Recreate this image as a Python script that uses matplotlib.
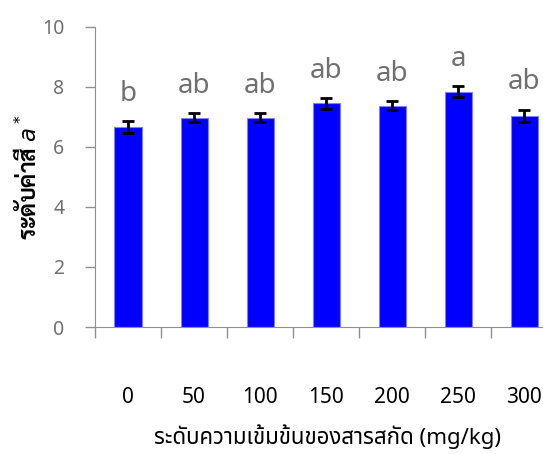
import matplotlib
matplotlib.use('Agg')
import matplotlib.pyplot as plt
from matplotlib import font_manager

# data
doses = ['0', '50', '100', '150', '200', '250', '300']
a_star = [6.65, 6.98, 6.98, 7.45, 7.38, 7.84, 7.04]
a_err = [0.20, 0.15, 0.15, 0.18, 0.15, 0.18, 0.20]
letters = ['b', 'ab', 'ab', 'ab', 'ab', 'a', 'ab']

fonts = font_manager.fontManager.ttflist
names = set(f.name for f in fonts)
thai = [n for n in ['Noto Sans Thai', 'Sarabun', 'Niramit', 'Kanit'] if n in names][:1]
bold = [n for n in ['Noto Sans Thai', 'Sarabun', 'Niramit', 'Kanit']
        if any(f.name == n and f.weight in (700, 'bold') and f.style == 'normal' for f in fonts)][:1]
fam = thai + ['DejaVu Sans']
plt.rcParams['font.family'] = fam
plt.rcParams['mathtext.fontset'] = 'dejavusans'

fig = plt.figure(figsize=(5.43, 4.54), dpi=100)
ax = fig.add_axes([0.175, 0.2797, 0.851, 0.661])

x = list(range(len(doses)))
ax.bar(x, a_star, width=0.41, color='#0000ff', edgecolor='#8080ff', linewidth=0.8)
ax.errorbar(x, a_star, yerr=a_err, fmt='none', ecolor='black', elinewidth=2,
            capsize=4.5, capthick=2)
for xi, v, e, t in zip(x, a_star, a_err, letters):
    ax.text(xi, v + e + 0.45, t, ha='center', va='bottom', fontsize=20,
            color='#707070', fontweight='light')

ax.set_xlim(-0.5, 6.5)
ax.set_ylim(0, 10)
ax.set_yticks([0, 2, 4, 6, 8, 10])
ax.tick_params(axis='y', length=7, width=1, color='#909090', labelcolor='#707070',
               labelsize=14, pad=15)
ax.set_xticks(x)
ax.set_xticklabels(doses)
ax.tick_params(axis='x', which='major', length=0, labelsize=15, pad=43)
ax.set_xticks([i + 0.5 for i in range(-1, 7)], minor=True)
ax.tick_params(axis='x', which='minor', length=8, width=1, color='#909090')
for s in ['top', 'right']:
    ax.spines[s].set_visible(False)
for s in ['left', 'bottom']:
    ax.spines[s].set_color('#909090')

ax.set_ylabel('ระดับค่าสี $a^*$', fontsize=16.5, fontweight='bold', labelpad=1,
              family=(bold or thai) + ['DejaVu Sans'])
fig.text(0.603, 0.038, 'ระดับความเข้มข้นของสารสกัด (mg/kg)', ha='center',
         va='center', fontsize=16)

fig.savefig('out.png', dpi=100)
